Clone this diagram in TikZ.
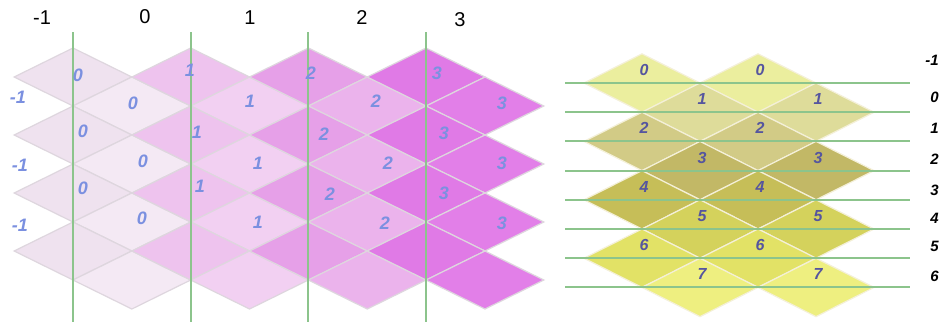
\documentclass[tikz,border=0pt]{standalone}
\usepackage{fontspec}
\setmainfont{Liberation Sans}
\definecolor{Lzm}{HTML}{EFE2EF}
\definecolor{Lzo}{HTML}{F4E9F4}
\definecolor{Lam}{HTML}{EEC3EE}
\definecolor{Lao}{HTML}{F2D0F2}
\definecolor{Lbm}{HTML}{E6A0E8}
\definecolor{Lbo}{HTML}{EBB3EC}
\definecolor{Lcm}{HTML}{E07AE6}
\definecolor{Lco}{HTML}{E27FE8}
\definecolor{Ra}{HTML}{EBEE9E}
\definecolor{Rb}{HTML}{DEDC9A}
\definecolor{Rc}{HTML}{D2CB86}
\definecolor{Rd}{HTML}{C2B866}
\definecolor{Re}{HTML}{C6BE58}
\definecolor{Rf}{HTML}{D4D25C}
\definecolor{Rg}{HTML}{E2E266}
\definecolor{Rh}{HTML}{EEEF80}
\definecolor{ledge}{HTML}{DED6DE}
\definecolor{redge}{HTML}{F4F0D8}
\definecolor{gline}{HTML}{8CC48C}
\definecolor{lblue}{HTML}{7B90E0}
\definecolor{rblue}{HTML}{55559F}
\tikzset{
  ldia/.style={draw=ledge, line width=1.2pt, line join=miter},
  rdia/.style={draw=redge, line width=1.2pt, line join=miter},
  greenline/.style={draw=gline, line width=2pt},
  toplbl/.style={font=\fontsize{20}{20}\selectfont, text=black, inner sep=0pt},
  llbl/.style={font=\fontsize{18}{18}\selectfont\bfseries\itshape, text=lblue, inner sep=0pt},
  rlbl/.style={font=\fontsize{16}{16}\selectfont\bfseries\itshape, text=rblue, inner sep=0pt},
  sidelbl/.style={font=\fontsize{15}{15}\selectfont\bfseries\itshape, text=black, inner sep=0pt, anchor=east}
}
\begin{document}
\begin{tikzpicture}[x=1pt,y=-1pt]
\useasboundingbox (0,0) rectangle (940,322);
\fill[white] (0,0) rectangle (940,322);
% ---- left figure: diamonds
\foreach \k/\cm/\co in {0/Lzm/Lzo, 1/Lam/Lao, 2/Lbm/Lbo, 3/Lcm/Lco}{
  \foreach \j in {0,...,3}{
    \path[ldia, fill=\cm] ({73+117.7*\k},{77+58*\j}) ++(-58.85,0) -- ++(58.85,-29) -- ++(58.85,29) -- ++(-58.85,29) -- cycle;
    \path[ldia, fill=\co] ({131.85+117.7*\k},{106+58*\j}) ++(-58.85,0) -- ++(58.85,-29) -- ++(58.85,29) -- ++(-58.85,29) -- cycle;
  }
}
% green vertical lines
\foreach \k in {0,...,3}{
  \draw[greenline] ({73+117.7*\k},32) -- ({73+117.7*\k},322);
}
% top labels
\node[toplbl] (t1) at (42,18) {-1};
\node[toplbl] (t2) at (145,17) {0};
\node[toplbl] (t3) at (250,18) {1};
\node[toplbl] (t4) at (362,18) {2};
\node[toplbl] (t5) at (460,20) {3};
% diamond labels (left)
\foreach \x/\y/\t [count=\i] in {
  78/75/0, 190/70/1, 311/73/2, 437/73/3,
  18/97/-1, 133/103/0, 250/101/1, 376/101/2, 502/103/3,
  83/131/0, 197/132/1, 324/134/2, 444/133/3,
  20/165/-1, 143/161/0, 258/163/1, 388/163/2, 502/163/3,
  83/188/0, 200/186/1, 330/194/2, 444/193/3,
  20/225/-1, 142/218/0, 258/222/1, 385/223/2, 502/223/3}{
  \node[llbl] (l\i) at (\x,\y) {\t};
}
% ---- right figure: diamonds
\foreach \r/\c in {0/Ra, 1/Rb, 2/Rc, 3/Rd, 4/Re, 5/Rf, 6/Rg, 7/Rh}{
  \pgfmathsetmacro{\yy}{83+29.2*\r}
  \pgfmathsetmacro{\xo}{mod(\r,2)*58}
  \foreach \m in {0,1}{
    \path[rdia, fill=\c] ({642+\xo+116*\m},\yy) ++(-58,0) -- ++(58,-29.2) -- ++(58,29.2) -- ++(-58,29.2) -- cycle;
  }
}
% horizontal green lines
\foreach \r in {0,...,7}{
  \draw[greenline] (565,{83+29.2*\r}) -- (910,{83+29.2*\r});
}
% right diamond labels
\foreach \r in {0,...,7}{
  \pgfmathsetmacro{\yy}{83+29.2*\r-13}
  \pgfmathsetmacro{\xo}{mod(\r,2)*58}
  \node[rlbl] (ra\r) at ({644+\xo},\yy) {\r};
  \node[rlbl] (rb\r) at ({760+\xo},\yy) {\r};
}
% side labels
\foreach \y/\t [count=\i] in {60/-1, 97/0, 128/1, 159/2, 190/3, 218/4, 246/5, 276/6}{
  \node[sidelbl] (s\i) at (939,\y) {\t};
}
\end{tikzpicture}
\end{document}
